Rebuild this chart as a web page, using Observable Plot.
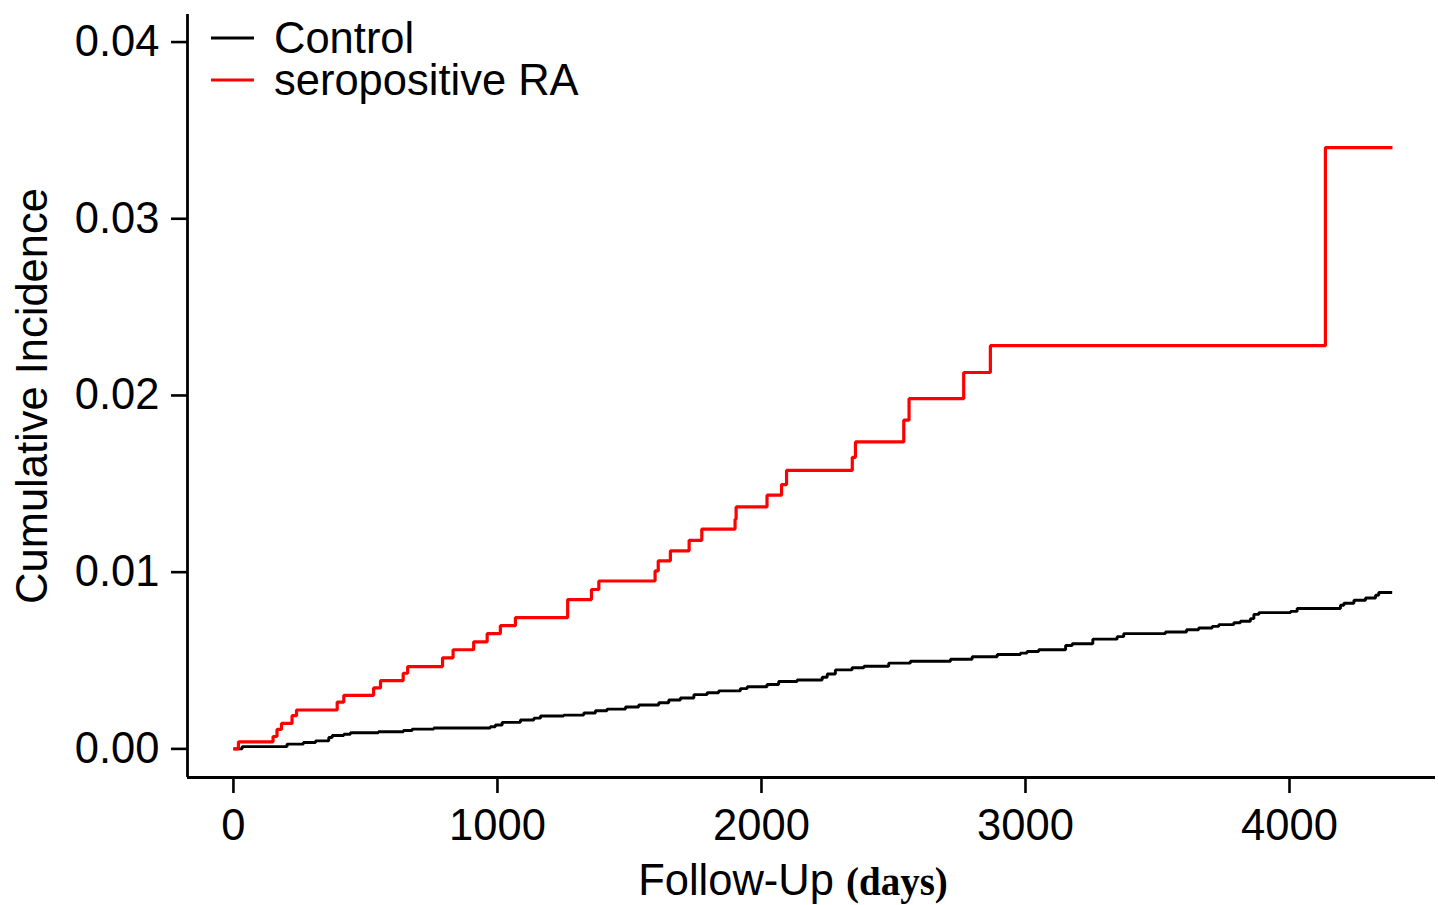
<!DOCTYPE html>
<html>
<head>
<meta charset="utf-8">
<script src="https://cdn.jsdelivr.net/npm/d3@7"></script>
<script src="https://cdn.jsdelivr.net/npm/@observablehq/plot@0.6"></script>
<style>
  html, body { margin: 0; padding: 0; background: #fff; }
  #chart { width: 1438px; height: 905px; }
</style>
</head>
<body>
<div id="chart"></div>
<script>
// ---- Data ----
const seriesNames = ["Control", "seropositive RA"];
const seriesColors = ["#000000", "#ff0000"];

const controlDays = [0, 33, 203, 265, 311, 361, 374, 418, 443, 549, 644, 677, 759, 973, 992, 1018, 1087, 1138, 1163, 1251,
  1327, 1371, 1415, 1485, 1535, 1611, 1649, 1693, 1744, 1794, 1838, 1920, 1946, 2021, 2065, 2135, 2230, 2249, 2280, 2343,
  2388, 2482, 2564, 2716, 2798, 2893, 2981, 3006, 3050, 3152, 3177, 3255, 3347, 3372, 3530, 3610, 3656, 3707, 3732, 3789,
  3814, 3852, 3865, 3884, 4004, 4029, 4193, 4206, 4244, 4288, 4326, 4338, 4389];
const controlCI = [0, 0.00013, 0.00027, 0.00036, 0.00045, 0.00064, 0.00076, 0.00083, 0.00091, 0.00097, 0.00104, 0.00112, 0.00118, 0.00125, 0.00135, 0.0015, 0.00163, 0.00174, 0.00186, 0.00191,
  0.00203, 0.00216, 0.00225, 0.00237, 0.00248, 0.00261, 0.00277, 0.00288, 0.00307, 0.00318, 0.00328, 0.00341, 0.00352, 0.00364, 0.00381, 0.0039, 0.00405, 0.00424, 0.00447, 0.00459,
  0.00468, 0.00485, 0.00496, 0.00507, 0.00521, 0.00534, 0.00542, 0.00551, 0.00561, 0.00585, 0.00595, 0.00621, 0.00635, 0.00652, 0.00661, 0.00674, 0.00684, 0.00693, 0.00703, 0.00714,
  0.00722, 0.00737, 0.00761, 0.00771, 0.00778, 0.00794, 0.00813, 0.00824, 0.00841, 0.00854, 0.00869, 0.00885, 0.00885];

const raDays = [0, 19, 150, 165, 182, 222, 239, 393, 418, 531, 557, 643, 660, 792, 832, 910, 961, 1011, 1068, 1266,
  1356, 1384, 1597, 1609, 1655, 1726, 1774, 1900, 1904, 2021, 2076, 2095, 2344, 2356, 2539, 2559, 2766, 2867, 4136, 4390];
const raCI = [0, 0.0004, 0.0007, 0.0011, 0.00144, 0.00188, 0.0022, 0.00265, 0.00303, 0.00345, 0.00386, 0.00428, 0.00466, 0.00515, 0.00561, 0.00606, 0.00652, 0.00697, 0.00743, 0.00845,
  0.00902, 0.0095, 0.01007, 0.01064, 0.01121, 0.0118, 0.01244, 0.013, 0.01369, 0.01436, 0.01496, 0.01576, 0.0165, 0.01737, 0.0186, 0.01982, 0.0213, 0.02282, 0.03403, 0.03403];

const xTicks = [0, 1000, 2000, 3000, 4000];
const yTicks = [0.00, 0.01, 0.02, 0.03, 0.04];
const xTitle = "Follow-Up";
const xTitleUnit = "(days)";
const yTitle = "Cumulative Incidence";

// ---- Build table ----
const rows = [];
controlDays.forEach((d, i) => rows.push({series: seriesNames[0], day: d, ci: controlCI[i]}));
raDays.forEach((d, i) => rows.push({series: seriesNames[1], day: d, ci: raCI[i]}));

const xDomain = [-174, 4553];
const yDomain = [-0.00162, 0.04156];
const sans = "'Liberation Sans', Arial, Helvetica, sans-serif";
const fs = 43.5;

const plot = Plot.plot({
  width: 1438,
  height: 905,
  marginLeft: 187,
  marginRight: 3,
  marginTop: 14,
  marginBottom: 128,
  style: {fontFamily: sans, fontSize: fs + "px", background: "#fff", color: "#000", overflow: "visible"},
  x: {domain: xDomain, label: null},
  y: {domain: yDomain, label: null},
  color: {domain: seriesNames, range: seriesColors},
  marks: [
    Plot.axisX({ticks: xTicks, tickSize: 16, tickPadding: 16, tickFormat: d => String(d), label: null, fontSize: fs, strokeWidth: 2.6}),
    Plot.axisY({ticks: yTicks, tickSize: 16, tickPadding: 12, tickFormat: d3.format(".2f"), label: null, fontSize: fs, strokeWidth: 2.6}),
    Plot.ruleX([xDomain[0]], {stroke: "#000", strokeWidth: 2.8}),
    Plot.ruleY([yDomain[0]], {stroke: "#000", strokeWidth: 2.8}),
    Plot.line(rows, {x: "day", y: "ci", z: "series", stroke: "series", curve: "step-after",
      strokeWidth: d => d.series === seriesNames[1] ? 3.2 : 2.9, strokeLinejoin: "miter", strokeLinecap: "butt"}),
    Plot.text([yTitle], {frameAnchor: "left", dx: -154, rotate: -90, textAnchor: "middle", fontSize: fs, fill: "#000"})
  ]
});

document.getElementById("chart").appendChild(plot);

// x-axis title with mixed fonts
const svg = d3.select(plot);
const xt = svg.append("text")
  .attr("x", 793).attr("y", 895)
  .attr("text-anchor", "middle")
  .attr("fill", "#000");
xt.append("tspan").attr("font-family", sans).attr("font-size", fs).text(xTitle + " ");
xt.append("tspan").attr("font-family", "'Liberation Serif', 'Times New Roman', serif").attr("font-weight", "bold").attr("font-size", 39).text(xTitleUnit);

// legend: keys as lines, labels as one multi-line text
const legend = svg.append("g");
seriesNames.forEach((name, i) => {
  const cy = 38 + i * 42;
  legend.append("line").attr("x1", 211).attr("x2", 254).attr("y1", cy).attr("y2", cy)
    .attr("stroke", seriesColors[i]).attr("stroke-width", 2.8);
});
const lt = legend.append("text").attr("text-anchor", "start")
  .attr("font-family", sans).attr("font-size", fs).attr("fill", "#000");
seriesNames.forEach((name, i) => {
  lt.append("tspan").attr("x", 274).attr("y", 38 + i * 42).attr("dy", "0.35em").text(name);
});
</script>
</body>
</html>
